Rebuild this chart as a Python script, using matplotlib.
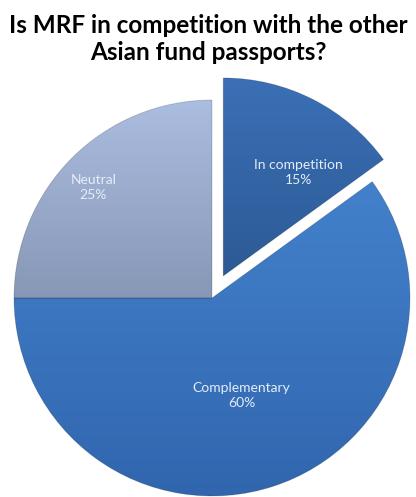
import numpy as np
import matplotlib
matplotlib.use("Agg")
import matplotlib.pyplot as plt
from matplotlib.colors import LinearSegmentedColormap

# survey answers, clockwise from 12 o'clock
answers = ["In competition", "Complementary", "Neutral"]
shares = [15, 60, 25]

# top / bottom colour of each slice gradient
top_colors = ["#3b70b6", "#4381cc", "#abbde0"]
bottom_colors = ["#2c5a95", "#3166ae", "#8797b6"]
explode = [0.125, 0, 0]
# label position relative to the slice centre (in radius units)
label_xy = [(0.38, 0.52), (0.15, -0.49), (-0.60, 0.56)]

W, H = 416, 497
fig = plt.figure(figsize=(W / 100, H / 100), dpi=100)
ax = fig.add_axes([0, 0, 1, 1])

cx, cy, R = 212, 199, 198
# pie offsets exploded slices by an absolute distance, so scale by the radius
wedges, _ = ax.pie(shares, explode=[e * R for e in explode], startangle=90,
                   counterclock=False, radius=R, center=(cx, cy), frame=True,
                   wedgeprops=dict(linewidth=0.6, edgecolor="#00000030"))

for w, c0, c1, name, val, (lx, ly) in zip(wedges, top_colors, bottom_colors,
                                          answers, shares, label_xy):
    w.set_facecolor("none")
    cmap = LinearSegmentedColormap.from_list("g", [c1, c0])
    grad = np.linspace(0, 1, 256).reshape(-1, 1)
    x0 = w.center[0] - w.r
    th = np.radians(np.linspace(w.theta1, w.theta2, 100))
    ys = np.concatenate([[w.center[1]], w.center[1] + w.r * np.sin(th)])
    im = ax.imshow(grad, cmap=cmap, origin="lower", aspect="auto",
                   extent=(x0, x0 + 2 * w.r, ys.min(), ys.max()), zorder=1)
    im.set_clip_path(w)
    w.set_zorder(2)
    ax.text(w.center[0] + lx * R, w.center[1] + ly * R, f"{name}\n{val}%",
            ha="center", va="center", color="#e4edf8", fontsize=10,
            family="Lato", linespacing=1.3, zorder=3)

ax.set_xlim(0, W)
ax.set_ylim(0, H)
ax.set_axis_off()

fig.text(0.5, 1 - 39 / H, "Is MRF in competition with the other\nAsian fund passports?",
         ha="center", va="center", fontsize=17.5, fontweight="bold",
         family="Lato", linespacing=1.2)

fig.savefig("out.png", dpi=100)
